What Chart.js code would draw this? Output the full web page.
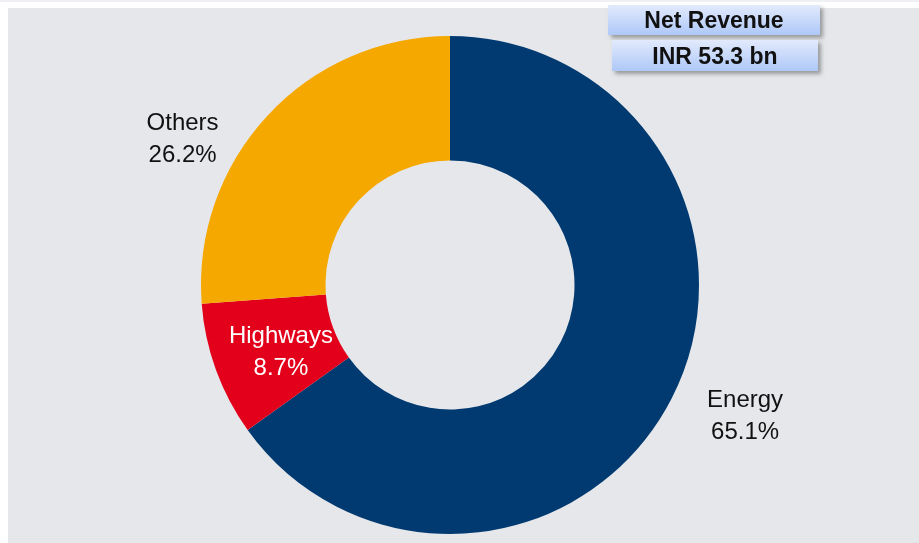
<!DOCTYPE html>
<html>
<head>
<meta charset="utf-8">
<script src="https://cdn.jsdelivr.net/npm/chart.js@4/dist/chart.umd.min.js"></script>
<style>
  html, body { margin: 0; padding: 0; background: #ffffff; }
  #wrap { position: relative; width: 919px; height: 543px; overflow: hidden; background: #ffffff; }
  #topline { position: absolute; left: 0; top: 0; width: 919px; height: 2px; background: #eff0f3; }
  #panel { position: absolute; left: 8px; top: 8px; width: 911px; height: 535px; background: #e6e7eb; }
  #chartBox { position: absolute; left: 0; top: 0; width: 919px; height: 543px; }
  .tag { position: absolute; font-family: "Liberation Sans", Arial, sans-serif; font-weight: bold; font-size: 23px;
         color: #111; text-align: center; background: linear-gradient(#e2eafc, #aec8f8);
         box-shadow: 3px 3px 4px rgba(90,90,90,0.55); }
  #tag1 { left: 608px; top: 5px; width: 212px; height: 30px; line-height: 31px; }
  #tag2 { left: 612px; top: 40px; width: 206px; height: 31px; line-height: 32px; }
</style>
</head>
<body>
<div id="wrap">
  <div id="topline"></div>
  <div id="panel"></div>
  <div id="chartBox"><canvas id="c" width="919" height="543"></canvas></div>
  <div class="tag" id="tag1"></div>
  <div class="tag" id="tag2"></div>
</div>
<script>
const categories = ["Energy", "Highways", "Others"];
const shares = [65.1, 8.7, 26.2];
const sliceColors = ["#003a70", "#e2001a", "#f5a800"];
const headerTitle = "Net Revenue";
const headerValue = "INR 53.3 bn";

document.getElementById('tag1').textContent = headerTitle;
document.getElementById('tag2').textContent = headerValue;

const labelPlugin = {
  id: 'sliceLabels',
  afterDatasetsDraw(chart) {
    const ctx = chart.ctx;
    const meta = chart.getDatasetMeta(0);
    const arc0 = meta.data[0];
    const cx = arc0.x, cy = arc0.y, r = arc0.outerRadius;
    // label anchor (relative to outer radius) for each category
    const anchors = {
      "Energy":   { dx: 1.185, dy: 0.526, color: "#111111" },
      "Highways": { dx: -0.679, dy: 0.271, color: "#ffffff" },
      "Others":   { dx: -1.074, dy: -0.586, color: "#111111" }
    };
    ctx.save();
    ctx.font = '24px "Liberation Sans", Arial, sans-serif';
    ctx.textAlign = 'center';
    ctx.textBaseline = 'middle';
    categories.forEach((cat, i) => {
      const a = anchors[cat];
      const x = cx + a.dx * r;
      const y = cy + a.dy * r;
      ctx.fillStyle = a.color;
      ctx.fillText(cat, x, y - 16);
      ctx.fillText(shares[i].toFixed(1) + '%', x, y + 16);
    });
    ctx.restore();
  }
};

new Chart(document.getElementById('c'), {
  type: 'doughnut',
  data: {
    labels: categories,
    datasets: [{
      data: shares,
      backgroundColor: sliceColors,
      borderWidth: 0,
      hoverOffset: 0
    }]
  },
  options: {
    responsive: false,
    animation: false,
    cutout: '50%',
    rotation: 0,
    layout: { padding: { left: 0, right: 19, top: 36, bottom: 9 } },
    plugins: {
      legend: { display: false },
      tooltip: { enabled: false },
      title: { display: false }
    }
  },
  plugins: [labelPlugin]
});
</script>
</body>
</html>
